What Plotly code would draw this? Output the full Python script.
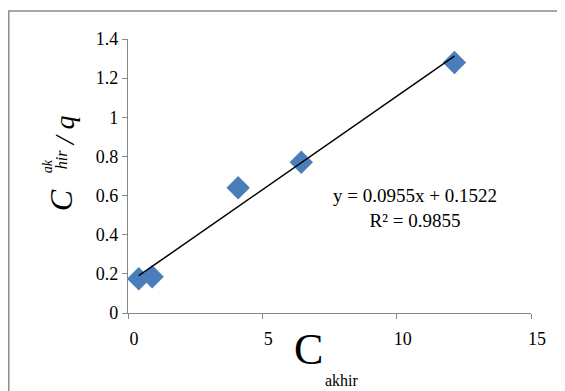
import plotly.graph_objects as go
import numpy as np

x_vals = [0.4, 0.9, 4.1, 6.45, 12.15]
y_vals = [0.175, 0.185, 0.64, 0.77, 1.28]
slope = 0.0955
intercept = 0.1522
eq_text = "y = 0.0955x + 0.1522<br>R² = 0.9855"

font_family = "Liberation Serif, serif"

fig = go.Figure()
fig.add_trace(go.Scatter(
    x=x_vals, y=y_vals, mode="markers",
    marker=dict(symbol="diamond", size=18, color="#4a7ebb"),
    showlegend=False, hoverinfo="skip"))
xl = np.array([min(x_vals), max(x_vals)])
fig.add_trace(go.Scatter(
    x=xl, y=slope * xl + intercept, mode="lines",
    line=dict(color="black", width=1.5), showlegend=False, hoverinfo="skip"))

# page offset (body margin 8px)
OFF = 8
L, R, T, B = 128 - OFF, 531 - OFF, 38.5 - OFF, 313 - OFF
W, H = 565 - OFF, 391 - OFF
def px(x):
    return (x - OFF - L) / (R - L)
def py(y):
    return (B - (y - OFF)) / (B - T)

fig.update_layout(
    width=W, height=H,
    margin=dict(l=L, r=W - R, t=T, b=H - B),
    paper_bgcolor="white", plot_bgcolor="white",
    font=dict(family=font_family, size=18, color="black"),
    xaxis=dict(range=[0, 15], tickvals=[0, 5, 10, 15], showgrid=False, zeroline=False,
               showline=True, linecolor="#868686", linewidth=1.3,
               ticks="outside", ticklen=5, tickcolor="#868686",
               ticklabelshift=6, ticklabelstandoff=4,
               tickfont=dict(size=18, family=font_family, color="black")),
    yaxis=dict(range=[0, 1.4], dtick=0.2, showgrid=False, zeroline=False,
               showline=True, linecolor="#868686", linewidth=1.3,
               ticks="outside", ticklen=5, tickcolor="#868686",
               ticklabelstandoff=0,
               tickfont=dict(size=18, family=font_family, color="black")),
    shapes=[dict(type="rect", xref="paper", yref="paper",
                 x0=px(8.8), x1=px(559), y0=py(400), y1=py(10.5),
                 line=dict(color="#8c8c8c", width=1.5), layer="below")],
)

def ann(text, x, y, size, angle=0, italic=False):
    if italic:
        text = "<i>" + text + "</i>"
    fig.add_annotation(text=text, xref="paper", yref="paper",
                       x=px(x), y=py(y), showarrow=False, textangle=angle,
                       font=dict(size=size, family=font_family, color="black"),
                       xanchor="center", yanchor="middle")

# equation
fig.add_annotation(text=eq_text, xref="paper", yref="paper", x=px(415), y=py(208),
                   showarrow=False, align="center",
                   font=dict(size=19, family=font_family, color="black"),
                   xanchor="center", yanchor="middle")

# y-axis title pieces
ann("C", 61, 200, 32, angle=-90, italic=True)
ann("ak", 47, 166, 14, angle=-90, italic=True)
ann("hir", 61, 160, 16, angle=-90, italic=True)
ann("/ q", 64, 131, 28, angle=-90, italic=True)

# x-axis title pieces
ann("C", 308, 350, 44)
ann("akhir", 342, 381, 16)

fig.write_html("out.html")
